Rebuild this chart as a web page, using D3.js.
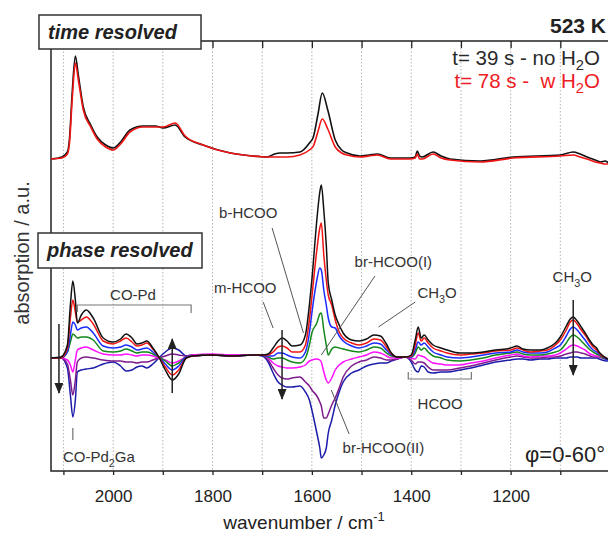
<!DOCTYPE html>
<html>
<head>
<meta charset="utf-8">
<script src="https://cdn.jsdelivr.net/npm/d3@7"></script>
<style>
  body { margin: 0; background: #fff; }
  svg { display: block; font-family: "Liberation Sans", Arial, sans-serif; }
</style>
</head>
<body>
<svg id="chart" width="608" height="534"></svg>
<script>
"use strict";

// ---- time resolved spectra (absorbance, a.u.) ----
const wnTop = [2125, 2103, 2092, 2088, 2082, 2076, 2070, 2060, 2045, 2032,
	2015, 2000, 1985, 1966, 1940, 1915, 1899, 1875, 1855, 1819,
	1764, 1720, 1690, 1675, 1664, 1650, 1624, 1605, 1597, 1588,
	1579, 1568, 1553, 1540, 1529, 1503, 1485, 1468, 1442, 1402,
	1392, 1388, 1383, 1378, 1356, 1340, 1322, 1261, 1195, 1100,
	1074, 1060, 1046, 1030, 1019, 1010, 1003];
const top39s = [.03, .05, .10, .22, .72, 1.06, .87, .55, .37, .25,
	.17, .14, .20, .32, .36, .36, .34, .37, .25, .17,
	.09, .06, .05, .08, .09, .09, .10, .19, .25, .47,
	.69, .52, .22, .12, .09, .06, .07, .08, .04, .04,
	.05, .11, .06, .05, .10, .06, .03, .01, .05, .07,
	.10, .08, .05, .02, 0, .01, -.01];
const top78s = [.03, .04, .08, .18, .65, .99, .82, .52, .35, .23,
	.15, .12, .18, .30, .35, .35, .35, .39, .26, .17,
	.09, .06, .05, .05, .05, .05, .07, .12, .16, .30,
	.43, .33, .15, .09, .07, .05, .06, .07, .03, .03,
	.04, .08, .03, .03, .08, .04, .02, 0, .04, .06,
	.07, .05, .03, 0, -.01, -.02, -.02];

// ---- phase resolved spectra, phi = 0..60 deg ----
const wnPhase = [2125, 2105, 2092, 2086, 2081, 2076, 2072, 2064, 2054, 2040,
	2020, 2000, 1985, 1974, 1962, 1952, 1942, 1932, 1920, 1908,
	1895, 1881, 1868, 1853, 1840, 1800, 1760, 1720, 1700, 1688,
	1678, 1668, 1660, 1650, 1640, 1624, 1613, 1605, 1600, 1590,
	1584, 1581, 1576, 1571, 1567, 1560, 1553, 1545, 1537, 1520,
	1505, 1490, 1475, 1462, 1450, 1440, 1428, 1412, 1400, 1392,
	1386, 1380, 1374, 1366, 1356, 1340, 1328, 1302, 1280, 1255,
	1230, 1200, 1187, 1175, 1160, 1140, 1126, 1110, 1100, 1088,
	1080, 1074, 1066, 1058, 1050, 1040, 1034, 1027, 1022, 1016,
	1008, 1000];
const ph0 = [0, .01, .13, .53, .77, .58, .35, .43, .48, .40,
	.20, .16, .19, .24, .20, .14, .15, .17, .10, .01,
	-.12, -.22, -.16, 0, .02, .03, .02, .03, .03, .04,
	.10, .17, .20, .17, .12, .13, .23, .53, .78, 1.38,
	1.66, 1.73, 1.48, 1.13, .75, .58, .43, .33, .25, .18,
	.17, .19, .23, .22, .14, .05, .01, .01, .03, .18,
	.31, .20, .23, .18, .13, .10, .08, .05, .05, .06,
	.08, .10, .12, .09, .08, .08, .10, .15, .21, .32,
	.39, .41, .37, .31, .25, .17, .13, .10, .06, .03,
	0, -.02];
const ph10 = [0, 0, .10, .40, .58, .46, .36, .38, .41, .34,
	.17, .14, .17, .20, .16, .12, .13, .15, .09, .01,
	-.09, -.17, -.12, 0, .02, .03, .02, .03, .03, .03,
	.06, .11, .12, .10, .06, .06, .13, .38, .61, 1.08,
	1.30, 1.35, 1.03, .78, .63, .53, .38, .26, .20, .15,
	.13, .15, .19, .18, .11, .04, .01, .01, .02, .13,
	.25, .17, .20, .15, .10, .07, .05, .03, .04, .05,
	.07, .08, .10, .08, .06, .07, .08, .13, .18, .28,
	.36, .38, .34, .28, .23, .15, .11, .08, .05, .02,
	0, -.02];
const ph20 = [0, 0, .06, .23, .36, .33, .28, .30, .31, .25,
	.12, .10, .11, .13, .11, .08, .09, .10, .06, .01,
	-.06, -.12, -.08, .01, .02, .03, .02, .03, .03, .02,
	.02, .05, .05, .03, .01, 0, .06, .25, .45, .78,
	.90, .88, .68, .53, .40, .31, .30, .22, .17, .12,
	.10, .12, .15, .14, .08, .03, .01, .01, .01, .08,
	.16, .13, .15, .11, .06, .03, .01, 0, .01, .03,
	.05, .06, .08, .06, .05, .05, .06, .10, .13, .22,
	.29, .31, .28, .23, .18, .11, .08, .06, .04, .02,
	-.01, -.02];
const ph30 = [0, 0, .06, .16, .24, .22, .20, .21, .21, .18,
	.07, .06, .07, .09, .07, .05, .06, .06, .04, .01,
	-.03, -.08, -.05, .01, .02, .03, .02, .03, .03, .01,
	-.01, 0, 0, -.02, -.04, -.05, 0, .13, .25, .35,
	.44, .45, .28, .13, .03, .09, .11, .10, .09, .07,
	.06, .08, .11, .10, .05, .02, .01, .01, .01, .05,
	.11, .08, .10, .06, .02, 0, -.02, -.03, -.02, 0,
	.03, .05, .06, .04, .03, .03, .04, .06, .08, .15,
	.21, .23, .21, .17, .13, .08, .06, .04, .03, .01,
	-.01, -.02];
const ph40 = [0, 0, -.02, -.07, -.14, -.02, .08, .10, .11, .08,
	.04, .03, .03, .04, .03, .02, .03, .03, .02, 0,
	-.02, -.05, -.03, .01, .03, .04, .03, .03, .03, 0,
	-.05, -.08, -.09, -.10, -.10, -.09, -.07, -.03, -.02, -.01,
	-.02, -.04, -.14, -.22, -.25, -.20, -.12, -.07, -.04, -.01,
	.01, .03, .06, .05, .02, 0, 0, .01, 0, -.01,
	.03, .02, .01, -.02, -.05, -.06, -.07, -.07, -.05, -.03,
	0, .03, .04, .02, .01, .02, .02, .03, .05, .09,
	.12, .13, .12, .10, .08, .04, .03, .02, .02, .01,
	-.01, -.02];
const ph50 = [0, 0, -.06, -.22, -.37, -.22, -.04, 0, .01, 0,
	-.02, -.03, -.03, -.04, -.04, -.05, -.04, -.04, -.02, 0,
	.02, .04, .03, .02, .03, .03, .03, .03, .03, -.02,
	-.10, -.17, -.20, -.21, -.20, -.19, -.24, -.28, -.32, -.38,
	-.44, -.48, -.60, -.60, -.56, -.47, -.40, -.30, -.19, -.08,
	-.04, -.02, .01, 0, -.02, -.02, -.01, .01, -.02, -.06,
	-.04, -.04, -.05, -.09, -.12, -.12, -.12, -.10, -.08, -.05,
	-.02, .01, .02, .01, 0, 0, .01, .01, .02, .04,
	.05, .06, .06, .05, .04, .02, .01, .01, .01, 0,
	-.01, -.02];
const ph60 = [0, 0, -.10, -.37, -.59, -.42, -.14, -.12, -.11, -.10,
	-.06, -.04, -.08, -.13, -.12, -.09, -.08, -.10, -.06, 0,
	.06, .10, .08, .02, .03, .03, .02, .03, .02, -.04,
	-.15, -.24, -.27, -.29, -.29, -.28, -.34, -.42, -.52, -.75,
	-.90, -1.00, -.97, -.90, -.75, -.62, -.47, -.34, -.24, -.15,
	-.12, -.08, -.06, -.05, -.05, -.03, -.01, .01, -.04, -.12,
	-.14, -.08, -.09, -.14, -.15, -.14, -.14, -.12, -.10, -.07,
	-.04, -.02, -.01, -.01, -.02, -.01, -.01, 0, 0, 0,
	.01, .01, .01, 0, 0, 0, 0, 0, -.01, -.02,
	-.03, -.03];

const gridWn = [2100, 2000, 1900, 1800, 1700, 1600, 1500, 1400, 1300, 1200, 1100];
const labelWn = [2000, 1800, 1600, 1400, 1200];

const svg = d3.select("#chart");
const frameTop = 41, frameBottom = 471, frameLeft = 51;

const x = d3.scaleLinear().domain([2125, 1000]).range([frameLeft, 610]);
const yTop = d3.scaleLinear().domain([0, 1]).range([162, 62]);
const yPh = d3.scaleLinear().domain([-1, 1]).range([458, 258]);

// arrow head
svg.append("defs").append("marker")
	.attr("id", "arrow")
	.attr("markerUnits", "userSpaceOnUse")
	.attr("markerWidth", 11).attr("markerHeight", 9)
	.attr("refX", 10).attr("refY", 4.5)
	.attr("orient", "auto")
	.append("path").attr("d", "M0,0 L11,4.5 L0,9 Z").attr("fill", "#222");

// dotted grid
svg.append("g").selectAll("line").data(gridWn).join("line")
	.attr("x1", d => x(d)).attr("x2", d => x(d))
	.attr("y1", frameTop).attr("y2", frameBottom)
	.attr("stroke", "#b5b5b5").attr("stroke-width", 1)
	.attr("stroke-dasharray", "1.5,2");

// bottom axis
const xAxis = svg.append("g")
	.attr("transform", `translate(0,${frameBottom})`)
	.call(d3.axisBottom(x).tickValues(gridWn).tickSize(4).tickSizeOuter(0).tickPadding(15)
		.tickFormat(d => labelWn.includes(d) ? d : ""));
xAxis.select(".domain").remove();
xAxis.selectAll(".tick line").attr("stroke", "#222").attr("stroke-width", 1.3);
xAxis.selectAll("text").attr("font-size", 17).attr("fill", "#222")
	.attr("font-family", "Liberation Sans, Arial, sans-serif");

// top axis, inward ticks
const xTop = svg.append("g")
	.attr("transform", `translate(0,${frameTop})`)
	.call(d3.axisTop(x).tickValues(gridWn).tickSize(-7).tickSizeOuter(0).tickFormat(""));
xTop.select(".domain").remove();
xTop.selectAll(".tick line").attr("stroke", "#222").attr("stroke-width", 1.3);

// frame
svg.append("path")
	.attr("d", `M610,${frameTop} H${frameLeft} V${frameBottom} H610`)
	.attr("fill", "none").attr("stroke", "#222").attr("stroke-width", 1.5);

// time resolved curves
const lineTop = d3.line()
	.x((d, i) => x(wnTop[i]))
	.y(d => yTop(d))
	.curve(d3.curveMonotoneX);
[[top39s, "#111"], [top78s, "#f01414"]].forEach(([vals, col]) => {
	svg.append("path").attr("d", lineTop(vals))
		.attr("fill", "none").attr("stroke", col).attr("stroke-width", 1.6);
});

// phase resolved curves
const linePh = d3.line()
	.x((d, i) => x(wnPhase[i]))
	.y(d => yPh(d))
	.curve(d3.curveMonotoneX);
const phaseSeries = [
	[ph60, "#1c1caa"], [ph50, "#7e1c8c"], [ph40, "#ff10ff"], [ph30, "#14881a"],
	[ph20, "#1a2cff"], [ph10, "#f01414"], [ph0, "#111"]
];
phaseSeries.forEach(([vals, col]) => {
	svg.append("path").attr("d", linePh(vals))
		.attr("fill", "none").attr("stroke", col).attr("stroke-width", 1.5);
});

// annotation helpers
function richText(g, parts, attrs) {
	const t = g.append("text");
	Object.entries(attrs).forEach(([k, v]) => t.attr(k, v));
	let shift = 0;
	parts.forEach(([s, kind]) => {
		const ts = t.append("tspan").text(s);
		let target = 0;
		if (kind === "sub") { ts.attr("font-size", "0.72em"); target = 5; }
		if (kind === "sup") { ts.attr("font-size", "0.68em"); target = -8; }
		if (target !== shift) { ts.attr("dy", target - shift); shift = target; }
	});
	return t;
}

const ann = svg.append("g").attr("fill", "#333").attr("font-size", 15);

// leader lines and brackets (wavenumber, value)
const leaders = [
	[[1698, .56], [1678, .30]],
	[[1680, 1.30], [1617, .25]],
	[[1473, .82], [1581, .03]],
	[[1392, .56], [1466, .31]],
	[[1525, -.76], [1561, -.32]],
	[[2081, -.70], [2081, -.82]]
];
leaders.forEach(([a, b]) => {
	ann.append("line")
		.attr("x1", x(a[0])).attr("y1", yPh(a[1]))
		.attr("x2", x(b[0])).attr("y2", yPh(b[1]))
		.attr("stroke", "#555").attr("stroke-width", 1);
});
const brackets = [
	[[2072, .46], [2072, .53], [1843, .53], [1843, .45]],
	[[1406, -.14], [1406, -.21], [1279, -.21], [1279, -.14]]
];
brackets.forEach(pts => {
	ann.append("path")
		.attr("d", d3.line().x(p => x(p[0])).y(p => yPh(p[1]))(pts))
		.attr("fill", "none").attr("stroke", "#777").attr("stroke-width", 1.2);
});

// arrows: [wavenumber, from, to]
const arrows = [[2109, .34, -.35], [1881, -.35, .19], [1660, .28, -.41], [1074, .58, -.17]];
arrows.forEach(([w, a, b]) => {
	svg.append("line")
		.attr("x1", x(w)).attr("x2", x(w))
		.attr("y1", yPh(a)).attr("y2", yPh(b))
		.attr("stroke", "#222").attr("stroke-width", 1.5)
		.attr("marker-end", "url(#arrow)");
});

// labels [parts, wavenumber, value, anchor]
const labels = [
	[[["CO-Pd"]], 1960, .58, "middle"],
	[[["m-HCOO"]], 1734, .65, "middle"],
	[[["b-HCOO"]], 1728, 1.40, "middle"],
	[[["br-HCOO(I)"]], 1436, .91, "middle"],
	[[["CH"], ["3", "sub"], ["O"]], 1348, .60, "middle"],
	[[["CH"], ["3", "sub"], ["O"]], 1076, .76, "middle"],
	[[["HCOO"]], 1342, -.51, "middle"],
	[[["br-HCOO(II)"]], 1456, -.95, "middle"],
	[[["CO-Pd"], ["2", "sub"], ["Ga"]], 2101, -1.04, "start"]
];
labels.forEach(([parts, w, v, anchor]) => {
	richText(ann, parts, { x: x(w), y: yPh(v), "text-anchor": anchor });
});

svg.append("text").attr("x", 605).attr("y", 462)
	.attr("text-anchor", "end").attr("font-size", 22).attr("fill", "#222")
	.text("φ=0-60°");

// panel title boxes
function titleBox(x0, y0, w, h, label) {
	svg.append("rect").attr("x", x0).attr("y", y0).attr("width", w).attr("height", h)
		.attr("fill", "#fff").attr("stroke", "#333").attr("stroke-width", 1.5);
	svg.append("text").attr("x", x0 + 9).attr("y", y0 + 24)
		.attr("font-size", 20).attr("font-weight", "bold").attr("font-style", "italic")
		.attr("fill", "#222").text(label);
}
titleBox(39, 15, 162, 34, "time resolved");
titleBox(38, 233, 164, 35, "phase resolved");

svg.append("text").attr("x", 606).attr("y", 33)
	.attr("text-anchor", "end").attr("font-size", 21).attr("font-weight", "bold")
	.attr("fill", "#222").text("523 K");

// legend
const leg = svg.append("g").attr("font-size", 20.5).attr("text-anchor", "end");
richText(leg, [["t= 39 s - no H"], ["2", "sub"], ["O"]], { x: 600, y: 65, fill: "#2a2a2a" });
richText(leg, [["t= 78 s -  w H"], ["2", "sub"], ["O"]], { x: 600, y: 88, fill: "#ee1c24" })
	.style("white-space", "pre");

// axis titles
richText(svg, [["wavenumber / cm"], ["-1", "sup"]],
	{ x: 304, y: 529, "text-anchor": "middle", "font-size": 19, fill: "#222" });
svg.append("text")
	.attr("transform", "translate(29,253) rotate(-90)")
	.attr("text-anchor", "middle").attr("font-size", 20).attr("fill", "#333")
	.text("absorption / a.u.");
</script>
</body>
</html>
